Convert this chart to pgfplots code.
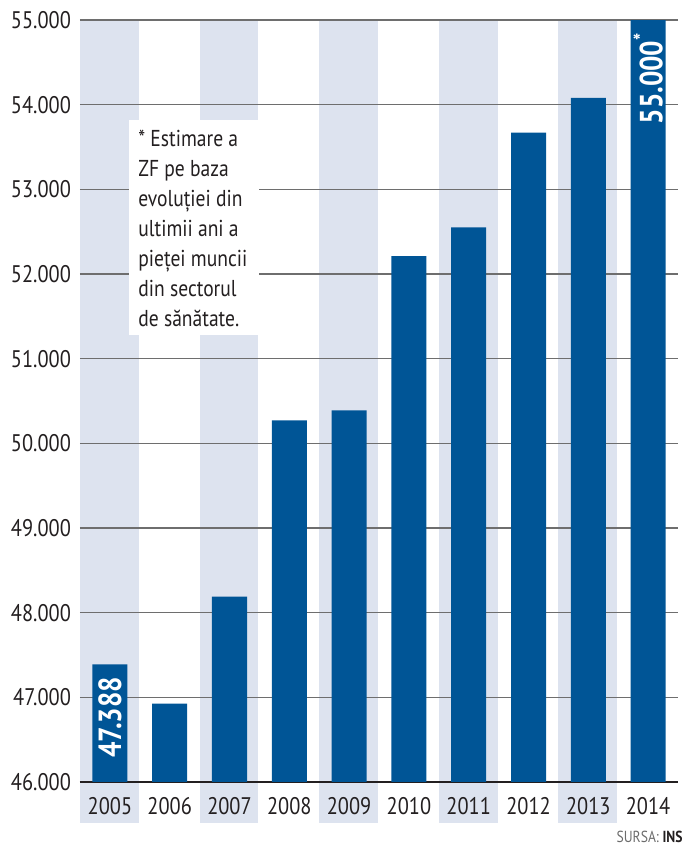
\documentclass[border=0pt]{standalone}
\usepackage{pgfplots}
\pgfplotsset{compat=1.18}
\usepackage{fontspec}
\setmainfont[FakeStretch=0.85]{PT Sans}

\definecolor{zfblue}{RGB}{0,85,150}
\definecolor{band}{RGB}{221,227,239}
\definecolor{ink}{RGB}{35,31,32}
\definecolor{gridgray}{RGB}{110,110,110}

\begin{document}
\begin{tikzpicture}
\useasboundingbox (-40pt,-34pt) rectangle (302.5pt,391pt);

% alternating background columns (2005, 2007, ...), reaching under the year labels
\foreach \i in {0,2,4,6,8}
  \fill[band] (\i*29.9pt,-20.5pt) rectangle ({(\i+1)*29.9pt-0.5pt},381pt);

\begin{axis}[
    at={(0,0)}, anchor=south west,
    scale only axis,
    width=299pt, height=381pt,
    xmin=-0.5, xmax=9.5,
    ymin=46000, ymax=55000,
    xtick={0,...,9},
    xticklabels={2005,2006,2007,2008,2009,2010,2011,2012,2013,2014},
    ytick={46000,47000,...,55000},
    scaled y ticks=false,
    yticklabel={\pgfmathprintnumber[fixed, precision=0, 1000 sep={.}, assume math mode=true]{\tick}},
    axis lines*=left,
    y axis line style={draw=none},
    x axis line style={line width=1.3pt, ink},
    major tick length=0pt,
    ymajorgrids,
    grid style={gridgray, line width=0.8pt},
    tick label style={font=\fontsize{12}{14}\selectfont, text=ink},
    yticklabel style={xshift=-1pt},
    xticklabel style={yshift=-4pt},
]

\addplot[ybar, bar width=17.5pt, fill=zfblue, draw=none,
    point meta=explicit symbolic,
    nodes near coords,
    nodes near coords style={yshift=-6pt, rotate=90, anchor=east, text=white,
        font=\fontsize{16}{18}\selectfont\bfseries, inner sep=0pt},
] coordinates {
    (0,47388) [47.388]
    (1,46925) []
    (2,48190) []
    (3,50270) []
    (4,50390) []
    (5,52210) []
    (6,52550) []
    (7,53670) []
    (8,54080) []
    (9,55000) [55.000\textsuperscript{*}]
};

% note box
\fill[white] (axis cs:0.317,53819) rectangle (axis cs:2.5,51280);
\node[anchor=north west, align=left, text=ink, inner sep=0pt,
      font=\fontsize{11.5}{15}\selectfont]
  at (axis cs:0.47,53710) {* Estimare a\\ZF pe baza\\evoluției din\\ultimii ani a\\pieței muncii\\din sectorul\\de sănătate.};

\end{axis}

\node[anchor=base east, inner sep=0pt, font=\fontsize{8}{9}\selectfont]
  at (301.5pt,-30pt) {\textcolor{gray!85!black}{SURSA:} \textcolor{ink}{\bfseries INS}};
\end{tikzpicture}
\end{document}
